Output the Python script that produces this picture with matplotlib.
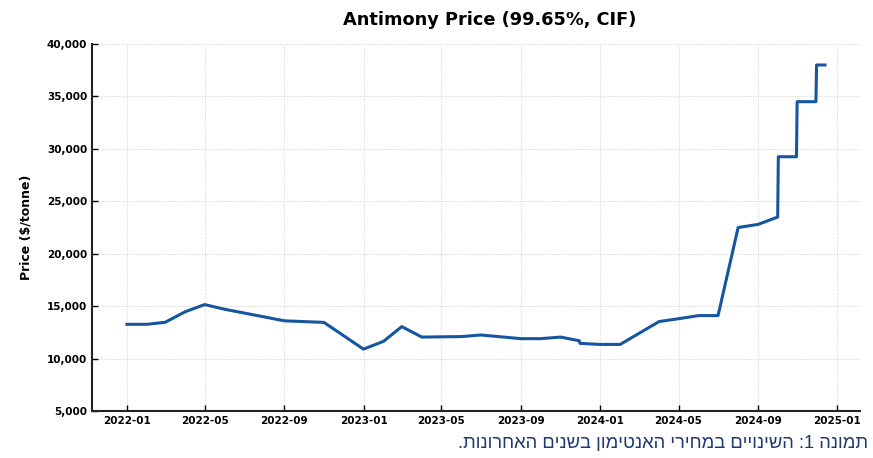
import pandas as pd
import numpy as np
import matplotlib as mpl
mpl.use('Agg')
import matplotlib.pyplot as plt
import matplotlib.dates as mdates
from matplotlib.ticker import FuncFormatter

# ========== Data ==========
dates = [
    "2022-01-01", "2022-02-01", "2022-03-01", "2022-04-01", "2022-05-01",
    "2022-06-01", "2022-09-01", "2022-11-01", "2023-01-01", "2023-02-01",
    "2023-03-01", "2023-04-01", "2023-06-01", "2023-07-01", "2023-09-01",
    "2023-10-01", "2023-11-01", "2023-11-30", "2023-12-01", "2024-01-01",
    "2024-02-01", "2024-04-01", "2024-05-01", "2024-06-01", "2024-07-01",
    "2024-08-01", "2024-09-01", "2024-10-01", "2024-10-02", "2024-10-30",
    "2024-10-31", "2024-11-29", "2024-11-30", "2024-12-13",
]
prices = [
    13270, 13270, 13460, 14470, 15150,
    14700, 13600, 13450, 10900, 11650,
    13050, 12050, 12100, 12250, 11900,
    11900, 12050, 11700, 11450, 11350,
    11350, 13530, 13800, 14100, 14100,
    22500, 22800, 23500, 29250, 29250,
    34500, 34500, 38000, 38000,
]
y_ticks = [5000, 10000, 15000, 20000, 25000, 30000, 35000, 40000]

title = "Antimony Price (99.65%, CIF)"
ylabel = "Price ($/tonne)"
caption = "תמונה 1: השינויים במחירי האנטימון בשנים האחרונות."

# ========== Plot ==========
fig = plt.figure(figsize=(8.73, 4.58), dpi=100)
ax = fig.add_axes([0.1054, 0.1026, 0.8796, 0.8013])

ax.plot(pd.to_datetime(dates), prices, color="#1656a0", lw=2.2, solid_joinstyle="round")

ax.set_ylim(5000, 40000)
ax.set_yticks(y_ticks)
ax.yaxis.set_major_formatter(FuncFormatter(lambda v, p: f"{int(v):,}"))
ax.xaxis.set_major_locator(mdates.MonthLocator(bymonth=[1, 5, 9]))
ax.xaxis.set_major_formatter(mdates.DateFormatter("%Y-%m"))

ax.grid(True, linestyle=(0, (1, 1.5)), color="#d0d0d0", lw=0.7)
ax.set_axisbelow(True)
for s in ["top", "right"]:
    ax.spines[s].set_visible(False)
for s in ["left", "bottom"]:
    ax.spines[s].set_linewidth(1.5)
    ax.spines[s].set_color("#222222")

ax.tick_params(direction="in", length=4, width=1, labelsize=7.5)
for lbl in ax.get_xticklabels() + ax.get_yticklabels():
    lbl.set_fontweight("bold")

ax.set_title(title, fontsize=12.8, fontweight="bold", pad=14, x=0.518)
ax.set_ylabel(ylabel, fontsize=9, fontweight="bold", labelpad=10)

# Hebrew caption: matplotlib has no bidi, so reverse for display
fig.text(0.994, 0.013, caption[::-1], ha="right", va="bottom",
         fontsize=13.2, color="#1f3a70", family=["Liberation Sans", "DejaVu Sans"])

fig.savefig("out.png", dpi=100)
